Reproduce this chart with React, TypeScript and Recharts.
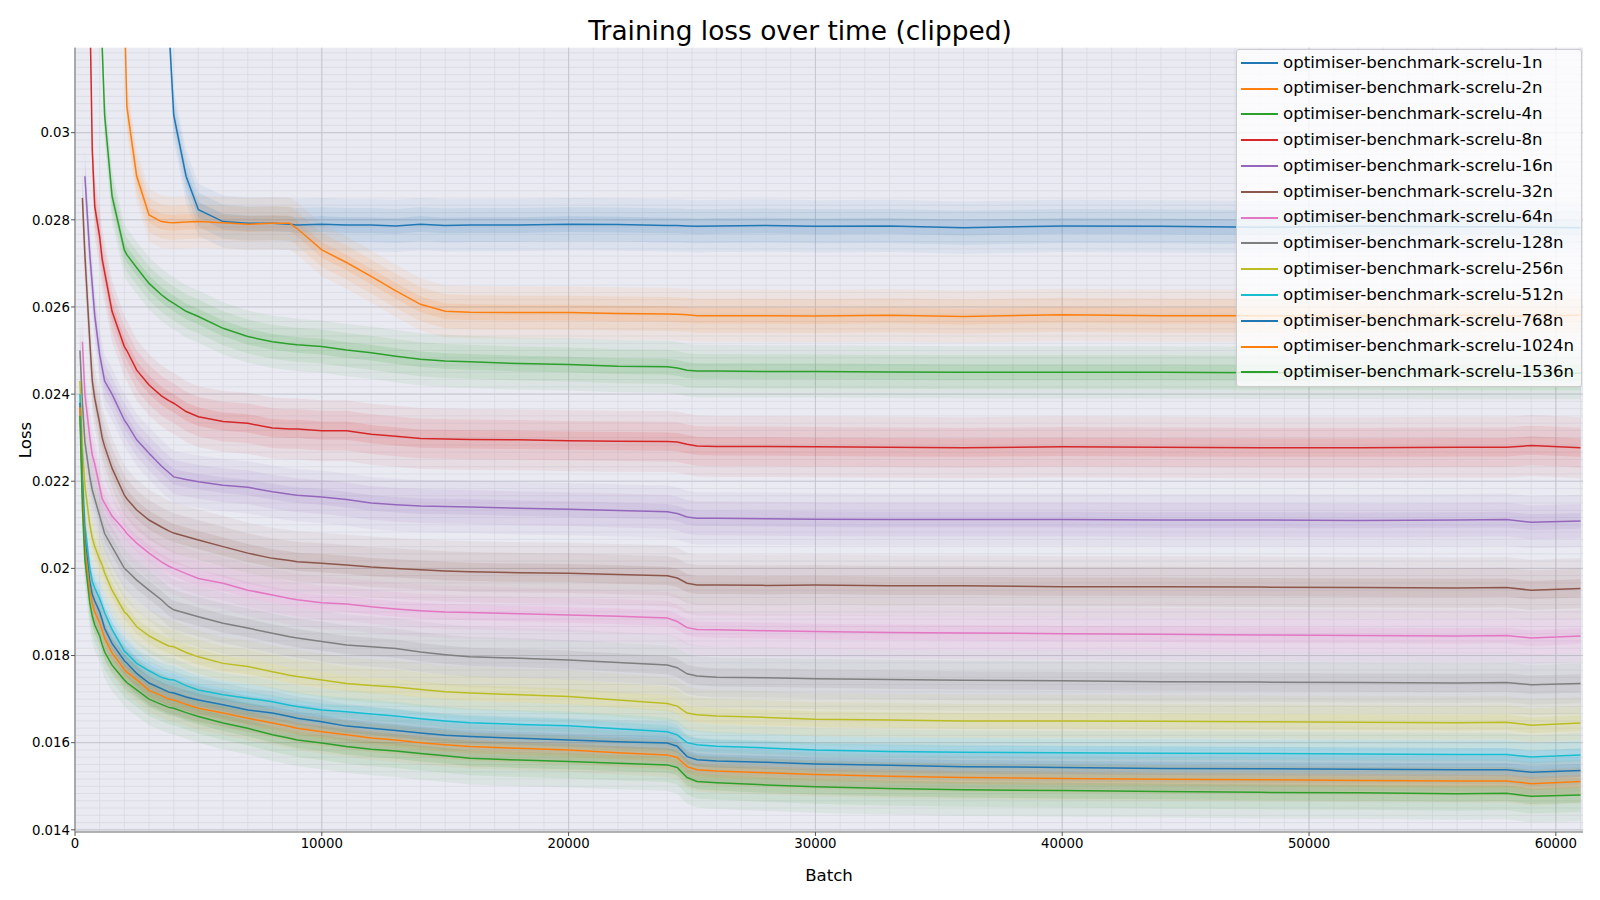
import React from "react";
import { ComposedChart, Line, Area, XAxis, YAxis, CartesianGrid } from "recharts";

// batch positions shared by every run (null = run has no value yet)
const batches = [
  200, 300, 400, 600, 700, 800, 1000, 1100, 1200, 1500, 2000, 2100, 2500, 3000, 3500, 3800, 4000, 4500, 5000,
  6000, 7000, 8000, 8700, 9000, 10000, 11000, 12000, 13000, 14000, 15000, 16000, 18000, 20000, 22000, 24000,
  24400, 24800, 25200, 26000, 28000, 30000, 33000, 36000, 40000, 44000, 48000, 52000, 56000, 58000, 59000, 61000,
];

const seriesNames = [
  "optimiser-benchmark-screlu-1n",
  "optimiser-benchmark-screlu-2n",
  "optimiser-benchmark-screlu-4n",
  "optimiser-benchmark-screlu-8n",
  "optimiser-benchmark-screlu-16n",
  "optimiser-benchmark-screlu-32n",
  "optimiser-benchmark-screlu-64n",
  "optimiser-benchmark-screlu-128n",
  "optimiser-benchmark-screlu-256n",
  "optimiser-benchmark-screlu-512n",
  "optimiser-benchmark-screlu-768n",
  "optimiser-benchmark-screlu-1024n",
  "optimiser-benchmark-screlu-1536n",
];

const colors = [
  "#1f77b4", "#ff7f0e", "#2ca02c", "#d62728", "#9467bd", "#8c564b", "#e377c2",
  "#7f7f7f", "#bcbd22", "#17becf", "#1f77b4", "#ff7f0e", "#2ca02c",
];

const n = null;

const loss1n = [
  n, n, n, n, n, n, n, n, n, n, n, n, n, n, n,
  0.0325, 0.0304, 0.029, 0.02823, 0.02796, 0.02792, 0.02792, 0.0279, 0.02788, 0.0279, 0.02788, 0.02788, 0.02786,
  0.0279, 0.02787, 0.02788, 0.02788, 0.0279, 0.02789, 0.02787, 0.02787, 0.02786, 0.02785, 0.02786, 0.02787,
  0.02785, 0.02786, 0.02782, 0.02786, 0.02785, 0.02783, 0.02785, 0.02784, 0.02784, 0.02783, 0.02782,
];
const loss2n = [
  n, n, n, n, n, n, n, n, n, n,
  0.033, 0.0306, 0.029, 0.02811, 0.02796, 0.02794, 0.02793, 0.02795, 0.02796, 0.02793, 0.0279, 0.02792, 0.02792,
  0.0278, 0.02731, 0.02702, 0.0267, 0.02637, 0.02606, 0.0259, 0.02588, 0.02587, 0.02587, 0.02585, 0.02584,
  0.02583, 0.02582, 0.0258, 0.0258, 0.0258, 0.02579, 0.02581, 0.02578, 0.02582, 0.0258, 0.0258, 0.02579,
  0.02581, 0.0258, 0.0258, 0.02581,
];
const loss4n = [
  n, n, n, n, n, n,
  0.0335, 0.032, 0.0304, 0.02855, 0.02731, 0.0272, 0.0269, 0.02654, 0.02628, 0.02615, 0.02608, 0.0259, 0.02578,
  0.02551, 0.02532, 0.0252, 0.02515, 0.02513, 0.02509, 0.02501, 0.02495, 0.02487, 0.0248, 0.02476, 0.02474,
  0.0247, 0.02468, 0.02464, 0.02463, 0.0246, 0.02455, 0.02453, 0.02453, 0.02452, 0.02452, 0.02451, 0.0245,
  0.0245, 0.0245, 0.02449, 0.02449, 0.02448, 0.02448, 0.02448, 0.02448,
];
const loss8n = [
  n, n, n,
  0.033, 0.0296, 0.0283, 0.02761, 0.0271, 0.0268, 0.0259, 0.02509, 0.025, 0.02455, 0.02421, 0.02396, 0.02385,
  0.02379, 0.0236, 0.02348, 0.02337, 0.02333, 0.02322, 0.0232, 0.0232, 0.02316, 0.02316, 0.02308, 0.02303,
  0.02298, 0.02297, 0.02296, 0.02295, 0.02293, 0.02292, 0.02291, 0.0229, 0.02285, 0.02281, 0.0228, 0.0228,
  0.02279, 0.02278, 0.02277, 0.02279, 0.02278, 0.02277, 0.02277, 0.02278, 0.02278, 0.02282, 0.02277,
];
const loss16n = [
  n, n,
  0.029, 0.0272, 0.0265, 0.0258, 0.0249, 0.0246, 0.0243, 0.024, 0.0234, 0.02332, 0.02295, 0.02264, 0.02235,
  0.0222, 0.0221, 0.02204, 0.02199, 0.02191, 0.02186, 0.02176, 0.0217, 0.02168, 0.02164, 0.02158, 0.0215,
  0.02146, 0.02143, 0.02142, 0.02141, 0.02138, 0.02136, 0.02133, 0.0213, 0.02126, 0.02118, 0.02115, 0.02115,
  0.02114, 0.02113, 0.02112, 0.02112, 0.02112, 0.02111, 0.02111, 0.0211, 0.02111, 0.02112, 0.02106, 0.02109,
];
const loss32n = [
  n,
  0.0285, 0.0272, 0.0252, 0.0243, 0.0239, 0.02333, 0.023, 0.0228, 0.0223, 0.02168, 0.0216, 0.02134, 0.02111,
  0.02095, 0.02086, 0.02081, 0.02073, 0.02065, 0.0205, 0.02035, 0.02023, 0.02018, 0.02015, 0.02012, 0.02008,
  0.02003, 0.02, 0.01997, 0.01994, 0.01992, 0.0199, 0.01989, 0.01986, 0.01983, 0.01978, 0.01966, 0.01962,
  0.01962, 0.01961, 0.01962, 0.0196, 0.0196, 0.01958, 0.01958, 0.01957, 0.01956, 0.01955, 0.01956, 0.0195, 0.01954,
];
const loss64n = [
  n,
  0.0252, 0.024, 0.023, 0.0226, 0.0224, 0.02187, 0.0216, 0.0215, 0.0212, 0.02088, 0.0208, 0.02058, 0.02035,
  0.02015, 0.02005, 0.02, 0.01988, 0.01977, 0.01966, 0.0195, 0.01939, 0.01931, 0.01928, 0.01921, 0.01918,
  0.01912, 0.01907, 0.01903, 0.019, 0.01899, 0.01896, 0.01893, 0.0189, 0.01886, 0.01878, 0.01864, 0.0186,
  0.01859, 0.01857, 0.01855, 0.01853, 0.01852, 0.0185, 0.01849, 0.01847, 0.01846, 0.01845, 0.01846, 0.0184, 0.01845,
];
const loss128n = [
  0.025, 0.0238, 0.0229, 0.0221, 0.0218, 0.0216, 0.0212, 0.021, 0.0208, 0.0205, 0.02, 0.01995, 0.01973, 0.0195,
  0.01928, 0.01912, 0.01905, 0.01897, 0.01889, 0.01874, 0.01863, 0.01851, 0.01843, 0.0184, 0.01832, 0.01824,
  0.0182, 0.01816, 0.01808, 0.01802, 0.01797, 0.01794, 0.0179, 0.01784, 0.01778, 0.01772, 0.01758, 0.01753,
  0.0175, 0.01749, 0.01747, 0.01745, 0.01743, 0.01742, 0.0174, 0.01739, 0.01738, 0.01737, 0.01738, 0.01733, 0.01736,
];
const loss256n = [
  0.0243, 0.0228, 0.0219, 0.021, 0.0207, 0.0205, 0.0202, 0.02008, 0.0199, 0.0195, 0.019, 0.01895, 0.01866,
  0.01845, 0.0183, 0.01822, 0.0182, 0.01807, 0.01797, 0.01782, 0.01775, 0.01763, 0.01755, 0.01752, 0.01744,
  0.01736, 0.01731, 0.01728, 0.01722, 0.01717, 0.01714, 0.0171, 0.01706, 0.01698, 0.0169, 0.01684, 0.01668,
  0.01664, 0.01661, 0.01658, 0.01654, 0.01652, 0.0165, 0.0165, 0.01649, 0.01648, 0.01647, 0.01646, 0.01647, 0.0164, 0.01645,
];
const loss512n = [
  0.024, 0.0222, 0.021, 0.02, 0.0197, 0.01955, 0.0193, 0.01915, 0.01898, 0.0186, 0.0181, 0.01805, 0.01782,
  0.01765, 0.0175, 0.01745, 0.01744, 0.01731, 0.01721, 0.0171, 0.01702, 0.01694, 0.01686, 0.01683, 0.01675,
  0.01671, 0.01666, 0.01661, 0.01655, 0.0165, 0.01646, 0.01642, 0.01639, 0.01632, 0.01625, 0.01618, 0.016,
  0.01595, 0.01592, 0.01588, 0.01583, 0.0158, 0.01578, 0.01577, 0.01576, 0.01575, 0.01574, 0.01573, 0.01573, 0.01567, 0.01572,
];
const loss768n = [
  0.0238, 0.0219, 0.0207, 0.0197, 0.0194, 0.01925, 0.019, 0.01882, 0.01862, 0.01828, 0.01788, 0.01783, 0.01759,
  0.01737, 0.01724, 0.01716, 0.01714, 0.01705, 0.01698, 0.01687, 0.01675, 0.01668, 0.0166, 0.01656, 0.01648,
  0.01638, 0.01633, 0.01628, 0.01622, 0.01617, 0.01614, 0.0161, 0.01606, 0.01602, 0.01599, 0.01592, 0.01568,
  0.01561, 0.01558, 0.01555, 0.01551, 0.01548, 0.01545, 0.01543, 0.01541, 0.0154, 0.01539, 0.01538, 0.01538, 0.01532, 0.01536,
];
const loss1024n = [
  0.0237, 0.0217, 0.0205, 0.0195, 0.0192, 0.019, 0.01875, 0.01858, 0.0184, 0.01806, 0.01768, 0.01762, 0.01744,
  0.0172, 0.01708, 0.017, 0.01698, 0.01688, 0.01679, 0.01668, 0.01656, 0.01645, 0.01637, 0.01633, 0.01625,
  0.01618, 0.01611, 0.01606, 0.016, 0.01595, 0.01591, 0.01587, 0.01583, 0.01577, 0.01572, 0.01566, 0.01545,
  0.01538, 0.01535, 0.01531, 0.01527, 0.01523, 0.0152, 0.01518, 0.01516, 0.01515, 0.01513, 0.01512, 0.01512, 0.01506, 0.01511,
];
const loss1536n = [
  0.0235, 0.0214, 0.0202, 0.0192, 0.0189, 0.0187, 0.01845, 0.01825, 0.01808, 0.01778, 0.01744, 0.01738, 0.01721,
  0.017, 0.01688, 0.01681, 0.01679, 0.01669, 0.0166, 0.01645, 0.01633, 0.01618, 0.0161, 0.01606, 0.01599,
  0.01591, 0.01585, 0.01581, 0.01575, 0.0157, 0.01564, 0.0156, 0.01557, 0.01553, 0.01549, 0.01543, 0.0152,
  0.01511, 0.01508, 0.01503, 0.01499, 0.01495, 0.01492, 0.0149, 0.01488, 0.01486, 0.01485, 0.01483, 0.01484, 0.01477, 0.0148,
];

// half-width of the raw (noisy) loss band behind each smoothed line
const bandSpread = [0.0006, 0.0006, 0.0006, 0.0007, 0.0006, 0.0007, 0.0006, 0.0007, 0.0006, 0.0005, 0.0005, 0.0005, 0.0006];

const xTicks = [0, 10000, 20000, 30000, 40000, 50000, 60000];
const yTicks = [0.014, 0.016, 0.018, 0.02, 0.022, 0.024, 0.026, 0.028, 0.03];

const lossSeries = [
  loss1n, loss2n, loss4n, loss8n, loss16n, loss32n, loss64n,
  loss128n, loss256n, loss512n, loss768n, loss1024n, loss1536n,
];

const X_MAX = 61100;
const Y_DOMAIN: [number, number] = [0.01395, 0.03195];

// soft band layers: fraction of the spread and fill opacity
const bandLayers = [
  { key: "o", frac: 1, opacity: 0.07 },
  { key: "m", frac: 0.65, opacity: 0.09 },
  { key: "c", frac: 0.3, opacity: 0.12 },
];

const xMinor: number[] = [];
for (let b = 0; b <= 61000; b += 1000) xMinor.push(b);
const yMinor: number[] = [];
for (let k = 0; 0.014 + (k * 0.002) / 12 <= Y_DOMAIN[1]; k++) yMinor.push(0.014 + (k * 0.002) / 12);

const rows = batches.map((batch, i) => {
  const row: Record<string, any> = { batch };
  lossSeries.forEach((vals, s) => {
    const v = vals[i] ?? null;
    row[`s${s}`] = v;
    bandLayers.forEach(({ key, frac }) => {
      const w = bandSpread[s] * frac;
      row[`${key}${s}`] = v == null ? null : [v - w, v + w];
    });
  });
  return row;
});

const FONT = "'DejaVu Sans', Verdana, sans-serif";

function Legend() {
  return (
    <div
      style={{
        position: "absolute",
        left: 1236,
        top: 49,
        width: 346,
        height: 338,
        boxSizing: "border-box",
        background: "rgba(255,255,255,0.8)",
        border: "1px solid #cccccc",
        borderRadius: 3,
      }}
    >
      {seriesNames.map((name, s) => (
        <div key={name} style={{ height: 25.8, display: "flex", alignItems: "center" }}>
          <span style={{ width: 37, height: 0, borderTop: `2px solid ${colors[s]}`, marginLeft: 4, marginRight: 5 }} />
          <span style={{ fontSize: 16.6, lineHeight: 1, color: "#000", whiteSpace: "nowrap" }}>{name}</span>
        </div>
      ))}
    </div>
  );
}

export default function App() {
  return (
    <div style={{ position: "relative", width: 1600, height: 900, background: "#fff", fontFamily: FONT }}>
      <style>{"body{margin:0;}"}</style>
      <ComposedChart
        width={1600}
        height={900}
        data={rows}
        margin={{ top: 47.7, right: 17, bottom: 0, left: 0 }}
      >
        <CartesianGrid
          fill="#eaeaf2"
          fillOpacity={1}
          stroke="#d9d9e3"
          strokeWidth={0.8}
          horizontalValues={yMinor}
          verticalValues={xMinor}
        />
        <CartesianGrid stroke="#c6c6d0" strokeWidth={1} horizontalValues={yTicks} verticalValues={xTicks} />
        <XAxis
          dataKey="batch"
          type="number"
          domain={[0, X_MAX]}
          ticks={xTicks}
          interval={0}
          allowDataOverflow
          height={68}
          tickSize={4}
          tickMargin={3}
          axisLine={{ stroke: "#9a9a9a", strokeWidth: 1.5 }}
          tickLine={{ stroke: "#555" }}
          tick={{ fill: "#000", fontSize: 13.3 }}
        />
        <YAxis
          type="number"
          domain={Y_DOMAIN}
          ticks={yTicks}
          interval={0}
          allowDataOverflow
          width={75}
          tickSize={4}
          tickMargin={1}
          tickFormatter={(v: number) => String(Number(v.toFixed(3)))}
          axisLine={{ stroke: "#9a9a9a", strokeWidth: 1.5 }}
          tickLine={{ stroke: "#555" }}
          tick={{ fill: "#000", fontSize: 13.3 }}
        />
        {bandLayers.map(({ key, opacity }) =>
          lossSeries.map((_, s) => (
            <Area
              key={`${key}${s}`}
              type="linear"
              dataKey={`${key}${s}`}
              stroke="none"
              fill={colors[s]}
              fillOpacity={opacity}
              dot={false}
              activeDot={false}
              isAnimationActive={false}
            />
          ))
        )}
        {lossSeries.map((_, s) => (
          <Line
            key={`s${s}`}
            type="linear"
            dataKey={`s${s}`}
            stroke={colors[s]}
            strokeWidth={1.5}
            dot={false}
            activeDot={false}
            isAnimationActive={false}
          />
        ))}
      </ComposedChart>
      <svg
        width={1600}
        height={900}
        style={{ position: "absolute", left: 0, top: 0, pointerEvents: "none" }}
      >
        <text x={800} y={40} textAnchor="middle" fontSize={26.4} fill="#000">
          Training loss over time (clipped)
        </text>
        <text x={829} y={880.5} textAnchor="middle" fontSize={16.6} fill="#000">
          Batch
        </text>
        <text transform="translate(30.5,440) rotate(-90)" textAnchor="middle" fontSize={16.6} fill="#000">
          Loss
        </text>
      </svg>
      <Legend />
    </div>
  );
}
